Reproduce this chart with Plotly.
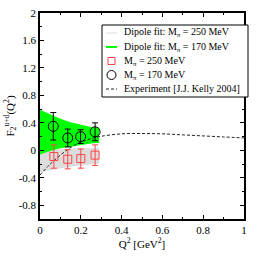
import plotly.graph_objects as go

# Lattice data points
q2_250 = [0.068, 0.136, 0.200, 0.270]
f2_250 = [-0.09, -0.13, -0.12, -0.07]
err_250 = [0.17, 0.14, 0.14, 0.15]

q2_170 = [0.065, 0.136, 0.199, 0.270]
f2_170 = [0.35, 0.18, 0.20, 0.27]
err_170 = [0.20, 0.13, 0.10, 0.13]

# Dipole fit bands (upper / lower edges)
band_q2 = [0.0, 0.05, 0.10, 0.15, 0.20, 0.25, 0.29]
band250_hi = [0.00, 0.01, 0.02, 0.02, 0.03, 0.03, 0.04]
band250_lo = [-0.32, -0.29, -0.26, -0.24, -0.22, -0.20, -0.19]
band170_hi = [0.59, 0.52, 0.46, 0.41, 0.37, 0.34, 0.33]
band170_lo = [-0.06, -0.01, 0.03, 0.06, 0.08, 0.10, 0.11]

# Experiment (J.J. Kelly 2004)
exp_q2 = [0.0, 0.05, 0.10, 0.15, 0.20, 0.25, 0.30, 0.40, 0.50, 0.60, 0.70, 0.80, 0.90, 1.00]
exp_f2 = [-0.36, -0.20, -0.07, 0.04, 0.12, 0.17, 0.205, 0.24, 0.245, 0.24, 0.225, 0.21, 0.195, 0.18]

legend_labels = [
    "Dipole fit: M<sub>π</sub> = 250 MeV",
    "Dipole fit: M<sub>π</sub> = 170 MeV",
    "M<sub>π</sub> = 250 MeV",
    "M<sub>π</sub> = 170 MeV",
    "Experiment [J.J. Kelly 2004]",
]
x_ticks = [0, 0.2, 0.4, 0.6, 0.8, 1.0]
x_ticktext = ["0", "0.2", "0.4", "0.6", "0.8", "1"]
y_ticks = [-0.8, -0.4, 0, 0.4, 0.8, 1.2, 1.6, 2.0]
y_ticktext = ["-0.8", "-0.4", "0", "0.4", "0.8", "1.2", "1.6", "2"]

FONT = "Times New Roman"
GREY = "#dcdcdc"
GREEN = "#00ff00"
RED = "#ff4545"
DASH = "3px,2px"

fig = go.Figure()

def band(xs, hi, lo, color, name):
    fig.add_trace(go.Scatter(x=xs + xs[::-1], y=hi + lo[::-1], fill="toself",
                             fillcolor=color, line=dict(width=0), mode="lines",
                             showlegend=False, hoverinfo="skip", name=name))

band(band_q2, band250_hi, band250_lo, GREY, "b250")
band(band_q2, band170_hi, band170_lo, GREEN, "b170")

fig.add_trace(go.Scatter(x=exp_q2, y=exp_f2, mode="lines", line=dict(color="#222222", width=1, dash=DASH),
                         line_shape="spline", showlegend=False))

fig.add_trace(go.Scatter(x=q2_250, y=f2_250, mode="markers",
                         marker=dict(symbol="square-open", size=8, color=RED, line=dict(width=1)),
                         error_y=dict(type="data", array=err_250, color=RED, thickness=1, width=3),
                         showlegend=False))
fig.add_trace(go.Scatter(x=q2_170, y=f2_170, mode="markers",
                         marker=dict(symbol="circle-open", size=10, color="black", line=dict(width=1)),
                         error_y=dict(type="data", array=err_170, color="black", thickness=1, width=3),
                         showlegend=False))

# Manual legend (paper coordinates; plot area 204 x 206 px)
def px_x(p):
    return (p - 40) / 204.0

def px_y(p):
    return (219 - p) / 206.0

shapes = [dict(type="rect", xref="paper", yref="paper", x0=px_x(102), x1=px_x(248),
               y0=px_y(97), y1=px_y(25), line=dict(color="black", width=1), fillcolor="white", layer="above")]
rows = [33, 47, 61, 75, 89]
sx0, sx1 = px_x(106), px_x(117)
shapes.append(dict(type="line", xref="paper", yref="paper", x0=sx0, x1=sx1, y0=px_y(rows[0]), y1=px_y(rows[0]),
                   line=dict(color=GREY, width=1), layer="above"))
shapes.append(dict(type="line", xref="paper", yref="paper", x0=sx0, x1=sx1, y0=px_y(rows[1]), y1=px_y(rows[1]),
                   line=dict(color=GREEN, width=2), layer="above"))
shapes.append(dict(type="rect", xref="paper", yref="paper", x0=px_x(108), x1=px_x(115),
                   y0=px_y(rows[2] + 3.5), y1=px_y(rows[2] - 3.5), line=dict(color=RED, width=1), layer="above"))
shapes.append(dict(type="circle", xref="paper", yref="paper", x0=px_x(107), x1=px_x(116),
                   y0=px_y(rows[3] + 4.5), y1=px_y(rows[3] - 4.5), line=dict(color="black", width=1), layer="above"))
shapes.append(dict(type="line", xref="paper", yref="paper", x0=sx0, x1=sx1, y0=px_y(rows[4]), y1=px_y(rows[4]),
                   line=dict(color="#222222", width=1, dash=DASH), layer="above"))

annotations = []
for r, lab in zip(rows, legend_labels):
    annotations.append(dict(text=lab, xref="paper", yref="paper", x=px_x(122), y=px_y(r),
                            xanchor="left", yanchor="middle", showarrow=False,
                            font=dict(family=FONT, size=10, color="black")))

axis_common = dict(showline=True, linecolor="black", linewidth=1.5, mirror="ticks",
                   ticks="inside", ticklen=4, tickcolor="black", showgrid=False, zeroline=False,
                   ticklabeloverflow="allow",
                   tickfont=dict(family=FONT, size=11, color="black"))

fig.update_layout(
    width=258, height=258,
    margin=dict(l=40, r=14, t=13, b=39, autoexpand=False),
    paper_bgcolor="white", plot_bgcolor="white",
    font=dict(family=FONT, color="black"),
    showlegend=False,
    shapes=shapes, annotations=annotations,
    xaxis=dict(range=[0, 1], tickvals=x_ticks, ticktext=x_ticktext,
               minor=dict(dtick=0.1, tick0=0, ticks="inside", ticklen=2, tickcolor="black"),
               title=dict(text="Q<sup>2</sup> [GeV<sup>2</sup>]", font=dict(family=FONT, size=11), standoff=2),
               **axis_common),
    yaxis=dict(range=[-1, 2], tickvals=y_ticks, ticktext=y_ticktext,
               minor=dict(dtick=0.2, tick0=0, ticks="inside", ticklen=2, tickcolor="black"),
               title=dict(text="F<sub>2</sub><sup>u+d</sup>(Q<sup>2</sup>)", font=dict(family=FONT, size=11), standoff=2),
               **axis_common),
)

# remove the default 8px body margin so the 258x258 figure fills the window exactly
fig.write_html("out.html", config={"displayModeBar": False},
               post_script="document.body.style.margin='0';document.body.style.overflow='hidden';")
